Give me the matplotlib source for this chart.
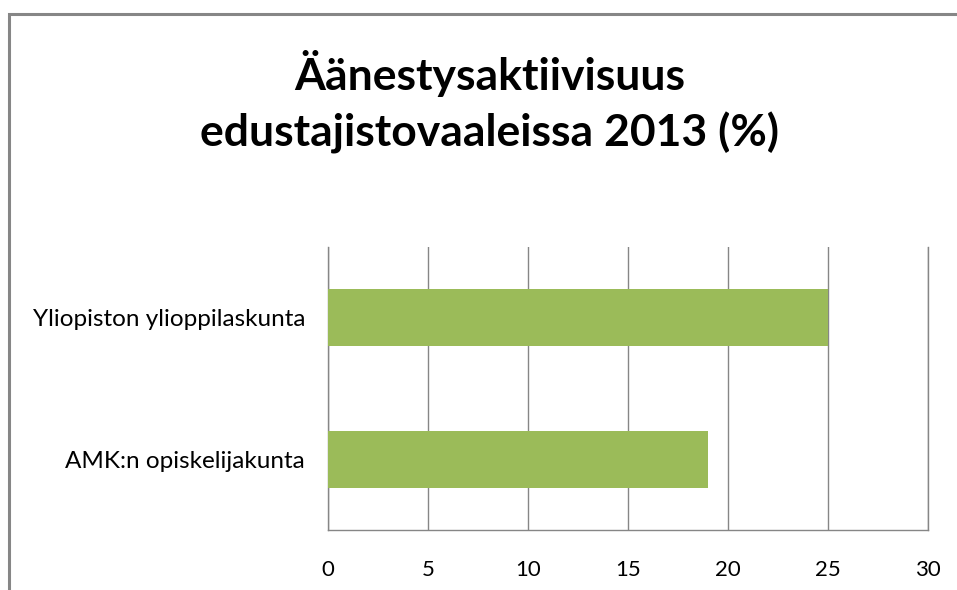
import matplotlib
matplotlib.use("Agg")
import matplotlib.pyplot as plt
from matplotlib.patches import Rectangle

categories = ["AMK:n opiskelijakunta", "Yliopiston ylioppilaskunta"]
values = [19, 25]
xticks = [0, 5, 10, 15, 20, 25, 30]
title = "Äänestysaktiivisuus\nedustajistovaaleissa 2013 (%)"

plt.rcParams['font.family'] = ['Lato', 'DejaVu Sans']

W, H = 957, 590
fig = plt.figure(figsize=(W / 100, H / 100), dpi=100)
fig.patch.set_facecolor("white")

# outer chart border (only top and left visible)
fig.add_artist(Rectangle((9 / W, -0.1), 1.2, (H - 14) / H + 0.1,
                         transform=fig.transFigure, fill=False,
                         edgecolor="#868686", linewidth=2.2))

ax = fig.add_axes([328 / W, 1 - 530 / H, (928 - 328) / W, (530 - 247) / H])
ax.barh(range(len(categories)), values, height=0.4, color="#9BBB59", zorder=3)
ax.set_xlim(0, 30)
ax.set_ylim(-0.5, 1.5)
ax.set_xticks(xticks)
ax.set_xticklabels([str(t) for t in xticks])
ax.set_yticks(range(len(categories)))
ax.set_yticklabels(categories)
ax.grid(axis="x", color="#868686", linewidth=1.0, zorder=0)
for s in ["top", "right"]:
    ax.spines[s].set_visible(False)
for s in ["left", "bottom"]:
    ax.spines[s].set_color("#868686")
    ax.spines[s].set_linewidth(1.0)
ax.plot([30, 30], [-0.5, 1.5], color="#868686", linewidth=1.0, zorder=1, clip_on=False)
ax.tick_params(axis="both", length=0, colors="#000000")
ax.tick_params(axis="x", pad=21.5, labelsize=16)
ax.tick_params(axis="y", pad=16.5, labelsize=17.5)

fig.text(490 / W, 1 - 102 / H, title, ha="center", va="center",
         fontsize=32, fontweight="bold", linespacing=1.45)

fig.savefig("out.png", dpi=100)
